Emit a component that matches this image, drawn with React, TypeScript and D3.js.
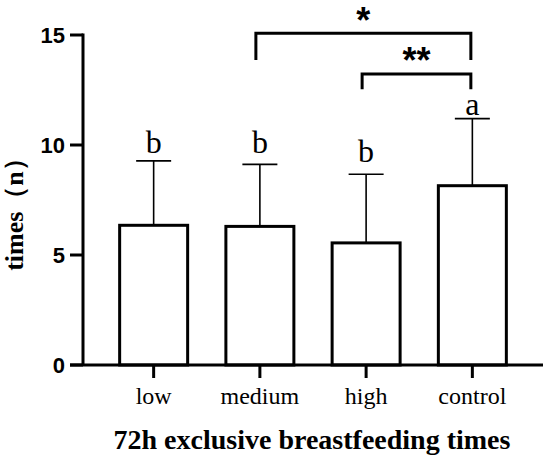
import React from "react";
import * as d3 from "d3";

const categories = ["low", "medium", "high", "control"];
const means = [6.35, 6.3, 5.55, 8.15];
const errTops = [9.28, 9.12, 8.67, 11.2];
const letters = ["b", "b", "b", "a"];
const letterVals = [9.64, 9.64, 9.23, 11.36];
const yTicks = [0, 5, 10, 15];
const brackets = [
  { from: "medium", to: "control", label: "*", top: 15.08, leg: 13.86 },
  { from: "high", to: "control", label: "**", top: 13.23, leg: 12.53 },
];

const W = 550;
const H = 459;

export default function App() {
  const x = d3
    .scaleBand<string>()
    .domain(categories)
    .range([83, 543])
    .paddingInner(0.36)
    .paddingOuter(0.345);
  const y = d3.scaleLinear().domain([0, 15]).range([365, 35]);
  const bw = x.bandwidth();
  const cx = (c: string) => (x(c) as number) + bw / 2;
  const sans = "'Liberation Sans', Arial, sans-serif";
  const serif = "'Liberation Serif', 'Times New Roman', serif";

  return (
    <svg
      width={W}
      height={H}
      style={{ position: "absolute", left: 0, top: 0, background: "#fff" }}
    >
      {/* bars */}
      {categories.map((c, i) => (
        <g key={c}>
          <line
            x1={cx(c)}
            x2={cx(c)}
            y1={y(means[i])}
            y2={y(errTops[i])}
            stroke="#000"
            strokeWidth={1.6}
          />
          <line
            x1={cx(c) - 17.5}
            x2={cx(c) + 17.5}
            y1={y(errTops[i])}
            y2={y(errTops[i])}
            stroke="#000"
            strokeWidth={1.6}
          />
          <rect
            x={x(c)}
            y={y(means[i])}
            width={bw}
            height={y(0) - y(means[i])}
            fill="#fff"
            stroke="#000"
            strokeWidth={3}
          />
          <text
            x={cx(c)}
            y={y(letterVals[i])}
            textAnchor="middle"
            fontFamily={serif}
            fontSize={32}
            fill="#000"
          >
            {letters[i]}
          </text>
          <line
            x1={cx(c)}
            x2={cx(c)}
            y1={y(0)}
            y2={y(0) + 13}
            stroke="#000"
            strokeWidth={3}
          />
          <text
            x={cx(c)}
            y={404}
            textAnchor="middle"
            fontFamily={serif}
            fontSize={24}
            fill="#000"
          >
            {c}
          </text>
        </g>
      ))}
      {/* y axis */}
      <line x1={83} x2={83} y1={y(15) - 1.5} y2={y(0)} stroke="#000" strokeWidth={3} />
      {yTicks.map((t) => (
        <g key={t}>
          <line x1={70} x2={83} y1={y(t)} y2={y(t)} stroke="#000" strokeWidth={3} />
          <text
            x={65}
            y={y(t)}
            dy="0.36em"
            textAnchor="end"
            fontFamily={sans}
            fontWeight="bold"
            fontSize={22}
            fill="#000"
          >
            {t}
          </text>
        </g>
      ))}
      {/* x axis */}
      <line x1={70} x2={543} y1={y(0)} y2={y(0)} stroke="#000" strokeWidth={3} />
      {/* brackets */}
      {brackets.map((b) => {
        const x1 = cx(b.from) - 4;
        const x2 = cx(b.to) - 1.5;
        return (
          <g key={b.label}>
            <path
              d={`M${x1},${y(b.leg)}V${y(b.top)}H${x2}V${y(b.leg)}`}
              fill="none"
              stroke="#000"
              strokeWidth={3}
            />
            <text
              x={(x1 + x2) / 2}
              y={y(b.top) - 0.5}
              textAnchor="middle"
              fontFamily={sans}
              fontWeight="bold"
              fontSize={36}
              fill="#000"
            >
              {b.label}
            </text>
          </g>
        );
      })}
      {/* axis titles */}
      <text
        transform={`translate(23,${208}) rotate(-90)`}
        textAnchor="middle"
        fontFamily={serif}
        fontWeight="bold"
        fontSize={26}
        fill="#000"
      >
        times（n）
      </text>
      <text
        x={312}
        y={449}
        textAnchor="middle"
        fontFamily={serif}
        fontWeight="bold"
        fontSize={28}
        fill="#000"
      >
        72h exclusive breastfeeding times
      </text>
    </svg>
  );
}
